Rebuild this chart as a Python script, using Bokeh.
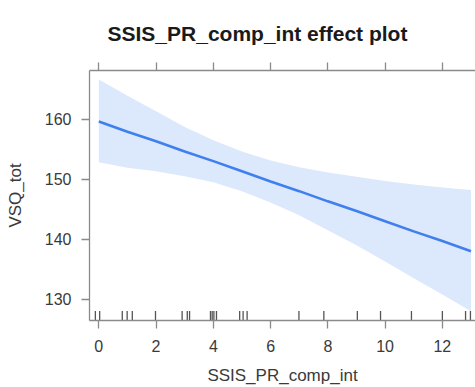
from bokeh.plotting import figure
from bokeh.models import Range1d, LinearAxis, FixedTicker
from bokeh.embed import file_html
from bokeh.resources import INLINE

# data
x_vals = [0, 1, 2, 3, 4, 5, 6, 7, 8, 9, 10, 11, 12, 13]
fit = [159.6, 157.9, 156.3, 154.6, 153.0, 151.3, 149.6, 148.0, 146.3, 144.7, 143.0, 141.3, 139.7, 138.0]
upper = [166.6, 163.9, 161.3, 158.7, 156.5, 154.6, 153.1, 152.0, 151.1, 150.4, 149.7, 149.1, 148.6, 148.2]
lower = [152.8, 151.9, 151.3, 150.5, 149.5, 148.0, 146.1, 144.0, 141.5, 139.0, 136.3, 133.5, 130.8, 128.0]
rug = [-0.12, 0.03, 0.82, 0.99, 1.17, 1.98, 2.91, 3.09, 3.17, 3.90, 3.96, 4.02, 4.11,
       4.92, 5.04, 5.18, 6.99, 7.86, 9.03, 9.84, 10.92, 12.0, 12.81, 12.98]
x_ticks = [0, 2, 4, 6, 8, 10, 12]
y_ticks = [130, 140, 150, 160]
title_text = "SSIS_PR_comp_int effect plot"

FONT = "Liberation Sans"
AX = "#8a8a8a"
TXT = "#3a3a3a"

xr = Range1d(-0.325, 13.157)
yr = Range1d(126.45, 168.1)

p = figure(width=475, height=387, x_range=xr, y_range=yr,
           output_backend="svg", toolbar_location=None,
           x_axis_location=None, y_axis_location=None,
           min_border_left=89, min_border_right=0,
           min_border_top=70, min_border_bottom=65)
p.grid.visible = False
p.outline_line_color = None
p.background_fill_color = "white"
p.border_fill_color = "white"

p.title.text = title_text
p.title.align = "left"
p.title.offset = 18
p.title.standoff = 36
p.title.text_font = FONT
p.title.text_font_size = "21px"
p.title.text_font_style = "bold"
p.title.text_color = "#1a1a1a"


def style(ax, labels=True):
    ax.axis_line_color = AX
    ax.axis_line_width = 1.3
    ax.major_tick_line_color = AX
    ax.major_tick_line_width = 1.3
    ax.major_tick_out = 8
    ax.major_tick_in = 0
    ax.minor_tick_line_color = None
    ax.major_label_text_font = FONT
    ax.major_label_text_font_size = "16px"
    ax.major_label_text_color = TXT if labels else None
    ax.axis_label_text_font = FONT
    ax.axis_label_text_font_size = "17px"
    ax.axis_label_text_font_style = "normal"
    ax.axis_label_text_color = TXT


xb = LinearAxis(ticker=FixedTicker(ticks=x_ticks), axis_label="SSIS_PR_comp_int")
style(xb)
xb.major_label_standoff = 11
xb.axis_label_standoff = 11
p.add_layout(xb, "below")

xt = LinearAxis(ticker=FixedTicker(ticks=x_ticks))
style(xt, labels=False)
xt.major_label_text_font_size = "0px"
xt.major_label_standoff = 0
p.add_layout(xt, "above")

yl = LinearAxis(ticker=FixedTicker(ticks=y_ticks), axis_label="VSQ_tot")
style(yl)
yl.major_label_standoff = 10
yl.axis_label_standoff = 17
p.add_layout(yl, "left")

p.varea(x=x_vals, y1=lower, y2=upper, fill_color="#dce8fb", fill_alpha=1.0)
p.line(x=x_vals, y=fit, line_color="#3f7fee", line_width=2.6)

rug_len = 1.6
p.segment(x0=rug, x1=rug, y0=[yr.start] * len(rug), y1=[yr.start + rug_len] * len(rug),
          line_color="#555555", line_width=1.3)

open("out.html", "w").write(file_html(p, INLINE))
